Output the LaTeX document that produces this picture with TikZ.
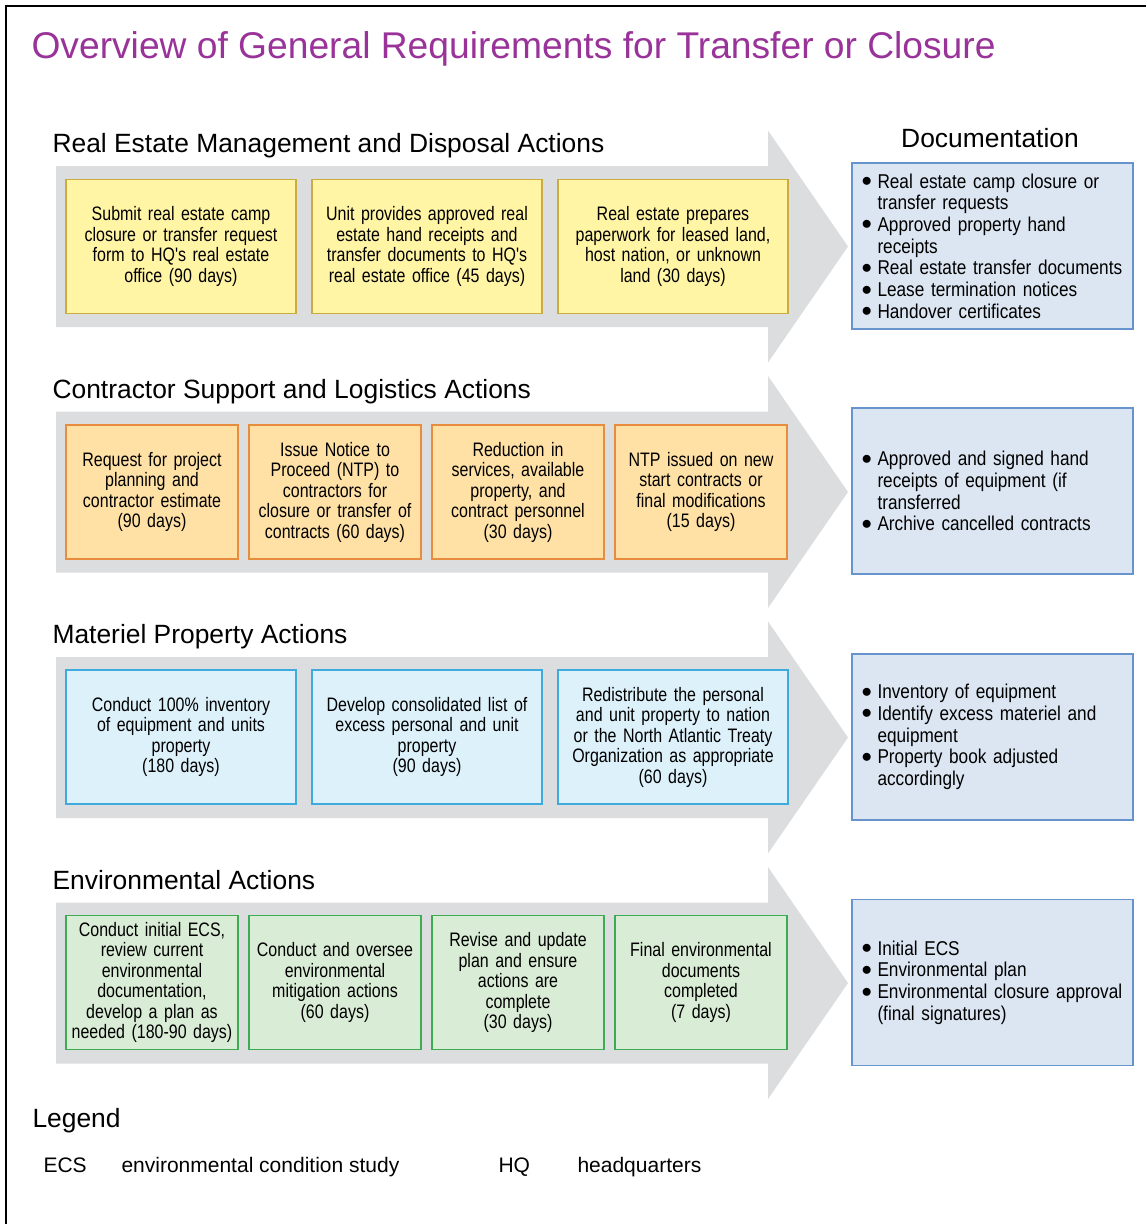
\documentclass[tikz,border=0pt]{standalone}
\usepackage{fontspec}
\setmainfont{Liberation Sans}
\newfontfamily\narrowfont[FakeStretch=0.82]{Liberation Sans}
\newfontfamily\docfont[FakeStretch=0.86]{Liberation Sans}
\usetikzlibrary{calc,positioning}

\definecolor{arrowgray}{RGB}{220,221,222}
\definecolor{titlepurple}{RGB}{153,51,153}
\definecolor{realfill}{RGB}{255,245,165}
\definecolor{realline}{RGB}{204,172,64}
\definecolor{contfill}{RGB}{255,225,165}
\definecolor{contline}{RGB}{232,140,62}
\definecolor{matfill}{RGB}{221,241,251}
\definecolor{matline}{RGB}{62,170,222}
\definecolor{envfill}{RGB}{217,236,213}
\definecolor{envline}{RGB}{62,170,82}
\definecolor{docfill}{RGB}{220,230,242}
\definecolor{docline}{RGB}{104,148,206}

\newcommand\docitem[1]{\noindent\hangindent=20pt\hangafter=1\hspace*{4pt}%
  \makebox[16pt][l]{\raisebox{1.5pt}{$\bullet$}}#1\par}

\begin{document}
\begin{tikzpicture}[x=1pt,y=-1pt,
  stepbox/.style={draw,line width=1.2pt,minimum height=134pt,align=center,inner sep=1pt,
    font=\narrowfont\fontsize{19.5}{20.5}\selectfont},
  widebox/.style={stepbox,minimum width=230pt,text width=224pt},
  slimbox/.style={stepbox,minimum width=172pt,text width=170pt},
  realbox/.style={widebox,fill=realfill,draw=realline},
  contbox/.style={slimbox,fill=contfill,draw=contline},
  matbox/.style={widebox,fill=matfill,draw=matline},
  envbox/.style={slimbox,fill=envfill,draw=envline},
  docbox/.style={draw=docline,fill=docfill,line width=1.2pt,minimum width=281pt,minimum height=166pt,
    text width=270pt,inner xsep=5.5pt,align=left,font=\docfont\fontsize{20}{21.7}\selectfont},
  heading/.style={anchor=base west,font=\fontsize{26.4}{30}\selectfont},
  legendtext/.style={anchor=base west,font=\fontsize{21}{25}\selectfont}]
\useasboundingbox (0,0) rectangle (1146,1224);
\fill[white] (0,0) rectangle (1146,1224);
\draw[line width=2.5pt] (6,1240) -- (6,6) -- (1160,6);

% grey process arrows
\foreach \i in {0,...,3}{
  \pgfmathsetmacro\ya{246.5+245.5*\i}
  \fill[arrowgray] (56,\ya-80.5) -- (768,\ya-80.5) -- (768,\ya-116) -- (848,\ya)
    -- (768,\ya+116) -- (768,\ya+80.5) -- (56,\ya+80.5) -- cycle;
}

\node[anchor=base west,text=titlepurple,font=\fontsize{37.2}{42}\selectfont] (title) at (28,58)
  {Overview of General Requirements for Transfer or Closure};

% real estate
\node[heading] (realhead) at (49,152.5) {Real Estate Management and Disposal Actions};
\node[anchor=base,font=\fontsize{26.4}{30}\selectfont] (dochead) at (990,147.5) {Documentation};
\node[realbox] (real1) at (181,246.5) {Submit real estate camp\\closure or transfer request\\form to HQ's real estate\\office (90 days)};
\node[realbox] (real2) at (427,246.5) {Unit provides approved real\\estate hand receipts and\\transfer documents to HQ's\\real estate office (45 days)};
\node[realbox] (real3) at (673,246.5) {Real estate prepares\\paperwork for leased land,\\host nation, or unknown\\land (30 days)};
\node[docbox] (realdoc) at (992.5,246) {%
  \docitem{Real estate camp closure or\newline transfer requests}
  \docitem{Approved property hand\newline receipts}
  \docitem{Real estate transfer documents}
  \docitem{Lease termination notices}
  \docitem{Handover certificates}};

% contractor
\node[heading] (conthead) at (49,398) {Contractor Support and Logistics Actions};
\node[contbox] (cont1) at (152,492) {Request for project\\planning and\\contractor estimate\\(90 days)};
\node[contbox] (cont2) at (335,492) {Issue Notice to\\Proceed (NTP) to\\contractors for\\closure or transfer of\\contracts (60 days)};
\node[contbox] (cont3) at (518,492) {Reduction in\\services, available\\property, and\\contract personnel\\(30 days)};
\node[contbox] (cont4) at (701,492) {NTP issued on new\\start contracts or\\final modifications\\(15 days)};
\node[docbox] (contdoc) at (992.5,491) {%
  \docitem{Approved and signed hand\newline receipts of equipment (if\newline transferred}
  \docitem{Archive cancelled contracts}};

% materiel
\node[heading] (mathead) at (49,643.5) {Materiel Property Actions};
\node[matbox] (mat1) at (181,737) {Conduct 100\% inventory\\of equipment and units\\property\\(180 days)};
\node[matbox] (mat2) at (427,737) {Develop consolidated list of\\excess personal and unit\\property\\(90 days)};
\node[matbox] (mat3) at (673,737) {Redistribute the personal\\and unit property to nation\\or the North Atlantic Treaty\\Organization as appropriate\\(60 days)};
\node[docbox] (matdoc) at (992.5,737) {%
  \docitem{Inventory of equipment}
  \docitem{Identify excess materiel and\newline equipment}
  \docitem{Property book adjusted\newline accordingly}};

% environmental
\node[heading] (envhead) at (49,889.5) {Environmental Actions};
\node[envbox] (env1) at (152,982.5) {Conduct initial ECS,\\review current\\environmental\\documentation,\\develop a plan as\\needed (180-90~days)};
\node[envbox] (env2) at (335,982.5) {Conduct and oversee\\environmental\\mitigation actions\\(60 days)};
\node[envbox] (env3) at (518,982.5) {Revise and update\\plan and ensure\\actions are\\complete\\(30 days)};
\node[envbox] (env4) at (701,982.5) {Final environmental\\documents\\completed\\(7 days)};
\node[docbox] (envdoc) at (992.5,982.5) {%
  \docitem{Initial ECS}
  \docitem{Environmental plan}
  \docitem{Environmental closure approval\newline (final signatures)}};

% legend
\node[heading] (legend) at (29,1127.5) {Legend};
\node[legendtext] (ecs) at (40,1172.5) {ECS};
\node[legendtext] (ecsdef) at (118,1172.5) {environmental condition study};
\node[legendtext] (hq) at (495,1172.5) {HQ};
\node[legendtext] (hqdef) at (574,1172.5) {headquarters};
\end{tikzpicture}
\end{document}
